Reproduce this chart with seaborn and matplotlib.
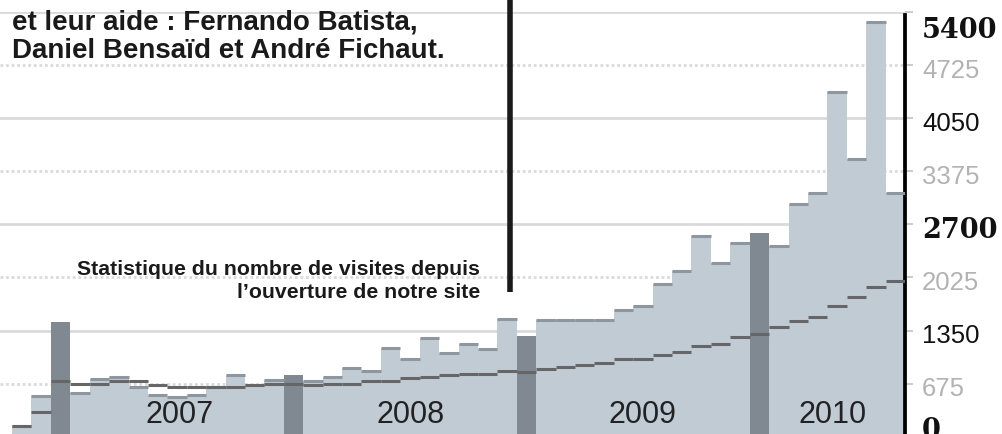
import matplotlib
matplotlib.use('Agg')
import matplotlib.pyplot as plt
import matplotlib.transforms as mtransforms
import seaborn as sns
import pandas as pd
import numpy as np

# monthly visits, Nov 2006 -> Aug 2010
months = pd.period_range('2006-11', periods=46, freq='M').strftime('%Y-%m').tolist()
visits = [138, 518, 1455, 552, 729, 758, 637, 530, 506, 530, 637, 780,
          660, 723, 780, 710, 758, 872, 830, 1130, 982, 1257, 1067, 1181,
          1115, 1501, 1277, 1479, 1479, 1479, 1479, 1607, 1666, 1941, 2103, 2556,
          2210, 2470, 2586, 2426, 2957, 3100, 4392, 3527, 5278, 3100]
trend = [138, 311, 704, 666, 666, 708, 708, 653, 637, 637, 637, 637,
         653, 666, 666, 653, 666, 675, 704, 704, 742, 758, 780, 801,
         799, 834, 824, 856, 885, 910, 941, 989, 991, 1037, 1071, 1151,
         1181, 1265, 1312, 1391, 1476, 1523, 1666, 1771, 1903, 1986]
years = ['2007', '2008', '2009', '2010']
year_pos = [8.15, 20.05, 32.0, 41.75]
tick_values = [0, 675, 1350, 2025, 2700, 3375, 4050, 4725, 5400]

df = pd.DataFrame({'month': months, 'visits': visits, 'trend': trend})
df['kind'] = np.where(df['month'].str.endswith('-01'), 'jan', 'other')

sns.set_style('white')
plt.rcParams['font.family'] = ['Liberation Sans', 'DejaVu Sans']

fig = plt.figure(figsize=(10.03, 4.35), dpi=100)
ax = fig.add_axes([0, 0, 905 / 1003, (435 - 13.3) / 435])

# grid, solid every 1350 and dotted in between
for v in tick_values[1:]:
    ls = '-' if v % 1350 == 0 else (0, (1, 1))
    ax.axhline(v, color='#dadada', lw=2, ls=ls, zorder=0.5)

sns.barplot(data=df, x='month', y='visits', hue='kind',
            palette={'jan': '#808991', 'other': '#c1cbd4'},
            dodge=False, width=1.0, saturation=1, legend=False,
            linewidth=0, ax=ax, zorder=2)

# darker cap on top of the light bars
other = df[df['kind'] == 'other']
ax.hlines(other['visits'], other.index - 0.5, other.index + 0.5,
          color='#8e979f', lw=2.2, zorder=3)
# trend steps
ax.hlines(df['trend'], df.index - 0.5, df.index + 0.5,
          color='#666666', lw=2.2, zorder=4)

ax.set_xlim(-1.12, 45.5)
ax.set_ylim(33, 5400)
ax.set_xticks([])
ax.set_xlabel('')
ax.set_ylabel('')
for s in ['left', 'top', 'bottom']:
    ax.spines[s].set_visible(False)
ax.spines['right'].set_color('black')
ax.spines['right'].set_linewidth(2.7)
ax.spines['right'].set_bounds(33, 5360)
ax.yaxis.tick_right()
ax.set_yticks(tick_values[1:])
ax.tick_params(axis='y', length=6, width=1.5, color='#cccccc', labelright=False)

# right-hand labels
trans = mtransforms.blended_transform_factory(ax.transAxes, ax.transData)
for v in tick_values:
    if v == 5400:
        y = 5179
    elif v == 0:
        y = 84
    else:
        y = v - 60
    if v % 2700 == 0:
        kw = dict(family=['DejaVu Serif'], weight='bold', color='#111111', fontsize=19.5)
    elif v % 1350 == 0:
        kw = dict(color='#111111', fontsize=18.5)
    else:
        kw = dict(color='#b3b3b3', fontsize=18.5)
    ax.text(922 / 905, y, str(v), transform=trans, ha='left', va='center',
            clip_on=False, **kw)

for yr, xp in zip(years, year_pos):
    ax.text(xp, 290, yr, ha='center', va='center', fontsize=22,
            color='#222222', zorder=6)

# pointer line from the caption above
ax.plot([25.13, 25.13], [1843, 5600], color='#1a1a1a', lw=4,
        solid_capstyle='butt', clip_on=False, zorder=5)

fig.text(12 / 1003, 1 - 30 / 435, 'et leur aide : Fernando Batista,',
         fontsize=20, weight='bold', color='#1a1a1a', va='baseline')
fig.text(12 / 1003, 1 - 58 / 435, 'Daniel Bensaïd et André Fichaut.',
         fontsize=20, weight='bold', color='#1a1a1a', va='baseline')
fig.text(480 / 1003, 1 - 275 / 435, 'Statistique du nombre de visites depuis',
         fontsize=15.3, weight='bold', color='#1a1a1a', ha='right', va='baseline')
fig.text(480 / 1003, 1 - 298 / 435, 'l\u2019ouverture de notre site',
         fontsize=15.3, weight='bold', color='#1a1a1a', ha='right', va='baseline')

fig.savefig('out.png', dpi=100)
